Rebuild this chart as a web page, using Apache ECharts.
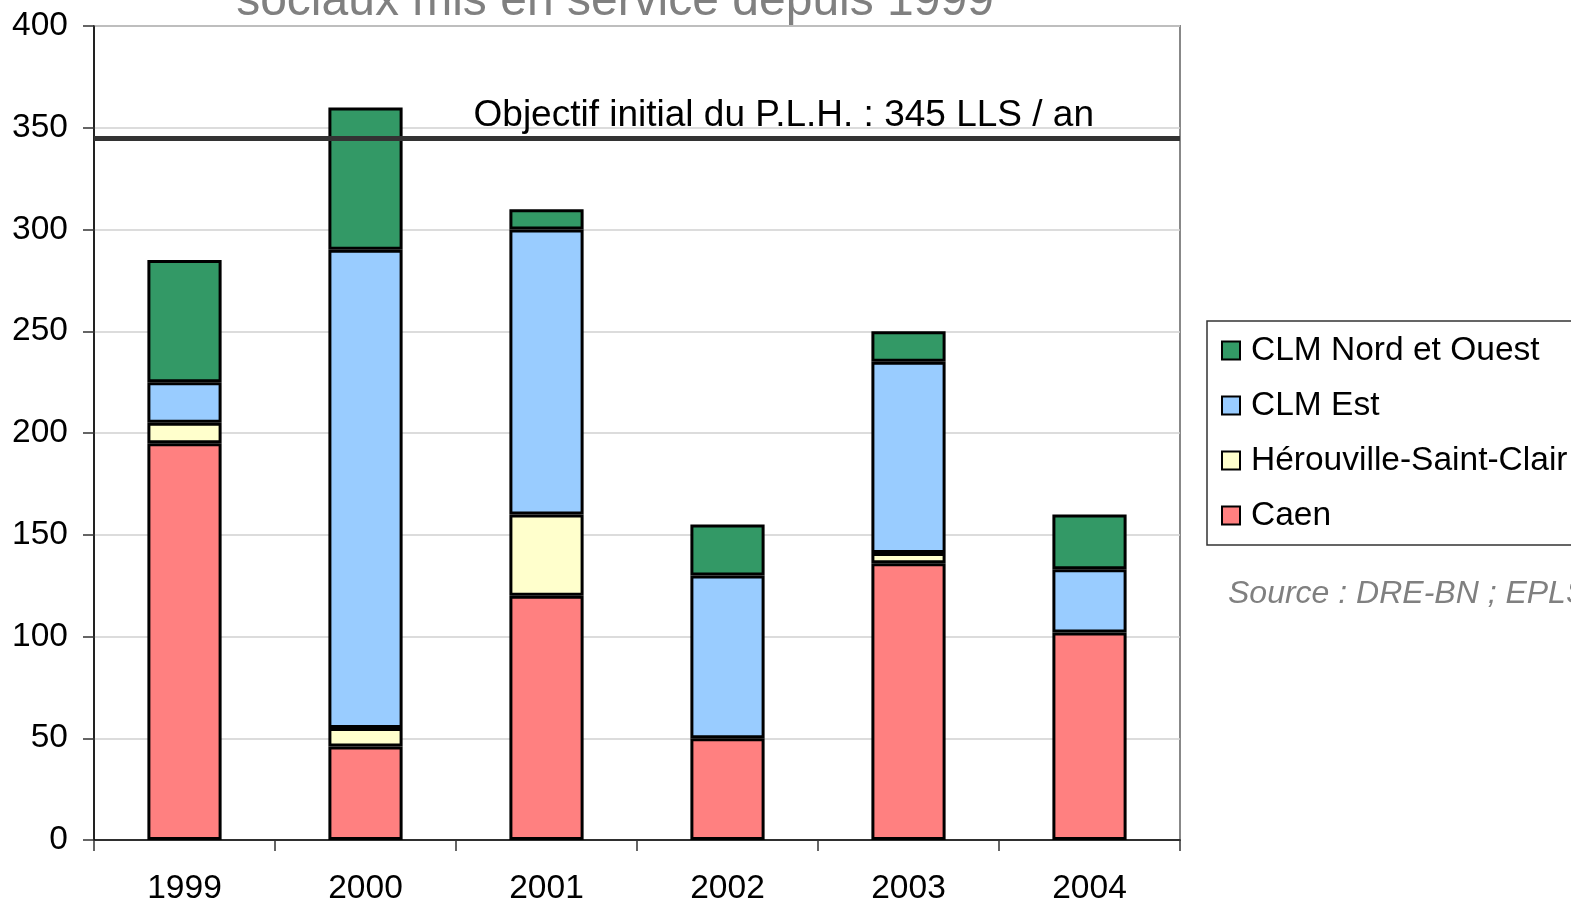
<!DOCTYPE html>
<html>
<head>
<meta charset="utf-8">
<script src="https://cdn.jsdelivr.net/npm/echarts@6/dist/echarts.min.js"></script>
<style>
  html, body { margin: 0; padding: 0; background: #ffffff; }
  #chart { width: 1571px; height: 904px; }
</style>
</head>
<body>
<div id="chart"></div>
<script>
// Logements locatifs sociaux mis en service, par secteur et par année
const years = ['1999', '2000', '2001', '2002', '2003', '2004'];
const caen = [195, 46, 120, 50, 136, 102];
const herouville = [10, 9, 40, 0, 5, 0];
const clmEst = [20, 235, 140, 80, 94, 31];
const clmNordOuest = [60, 70, 10, 25, 15, 27];
const objectifPLH = 345;
const yTicks = [0, 50, 100, 150, 200, 250, 300, 350, 400];

const FONT = '"Liberation Sans", Arial, sans-serif';

// Empty segments are left out so they do not add an extra outline to the stack
function barSeries(name, data, color) {
  return {
    name: name,
    type: 'bar',
    stack: 'total',
    data: data.map(v => (v === 0 ? '-' : v)),
    barWidth: '41%',
    itemStyle: { color: color, borderColor: '#000000', borderWidth: 3 },
    emphasis: { disabled: true }
  };
}

const series = [
  barSeries('Caen', caen, '#FF8080'),
  barSeries('Hérouville-Saint-Clair', herouville, '#FFFFCC'),
  barSeries('CLM Est', clmEst, '#99CCFF'),
  barSeries('CLM Nord et Ouest', clmNordOuest, '#339966')
];

series[3].markLine = {
  silent: true,
  symbol: 'none',
  data: [{ yAxis: objectifPLH }],
  lineStyle: { color: '#333333', width: 5, type: 'solid' },
  label: {
    position: 'insideEndTop',
    formatter: p => 'Objectif initial du P.L.H. : ' + p.value + ' LLS / an',
    fontFamily: FONT,
    fontSize: 37,
    color: '#000000',
    distance: 4,
    padding: [0, 82, 0, 0]
  }
};

const chart = echarts.init(document.getElementById('chart'), null, { renderer: 'canvas' });

chart.setOption({
  animation: false,
  backgroundColor: '#ffffff',
  textStyle: { fontFamily: FONT },
  graphic: [
    {
      type: 'text',
      x: 615,
      y: -22,
      style: {
        text: 'sociaux mis en service depuis 1999',
        font: '48px ' + FONT,
        fill: '#808080',
        align: 'center',
        verticalAlign: 'top'
      }
    },
    {
      type: 'text',
      left: 1228,
      top: 578,
      style: {
        text: 'Source : DRE-BN ; EPLS',
        font: 'italic 32px ' + FONT,
        fill: '#808080'
      }
    }
  ],
  grid: {
    left: 94, right: 391, top: 26, bottom: 64,
    outerBoundsMode: 'none',
    containLabel: false,
    show: true,
    borderColor: '#888888',
    borderWidth: 2,
    backgroundColor: 'transparent'
  },
  legend: {
    orient: 'vertical',
    left: 1207,
    top: 321,
    data: ['CLM Nord et Ouest', 'CLM Est', 'Hérouville-Saint-Clair', 'Caen'],
    icon: 'rect',
    itemWidth: 18,
    itemHeight: 18,
    itemGap: 18,
    selectedMode: false,
    backgroundColor: '#ffffff',
    borderColor: '#333333',
    borderWidth: 1.5,
    padding: [11, 60, 11, 14],
    itemStyle: { borderColor: '#000000', borderWidth: 2 },
    textStyle: { fontFamily: FONT, fontSize: 33.5, color: '#000000', lineHeight: 37, padding: [0, 0, 0, 6] }
  },
  xAxis: {
    type: 'category',
    data: years,
    axisLine: { lineStyle: { color: '#000000', width: 1.5 } },
    axisTick: { show: true, length: 11, lineStyle: { color: '#333333', width: 1.5 } },
    axisLabel: { fontFamily: FONT, fontSize: 33.5, color: '#000000', margin: 32 },
    splitLine: { show: false }
  },
  yAxis: {
    type: 'value',
    min: yTicks[0],
    max: yTicks[yTicks.length - 1],
    interval: yTicks[1] - yTicks[0],
    axisLine: { show: true, lineStyle: { color: '#000000', width: 1.5 } },
    axisTick: { show: true, length: 11, lineStyle: { color: '#333333', width: 1.5 } },
    axisLabel: { fontFamily: FONT, fontSize: 33.5, color: '#000000', margin: 26 },
    splitLine: { show: true, lineStyle: { color: '#d0d0d0', width: 1.5 } }
  },
  series: series
});
</script>
</body>
</html>
